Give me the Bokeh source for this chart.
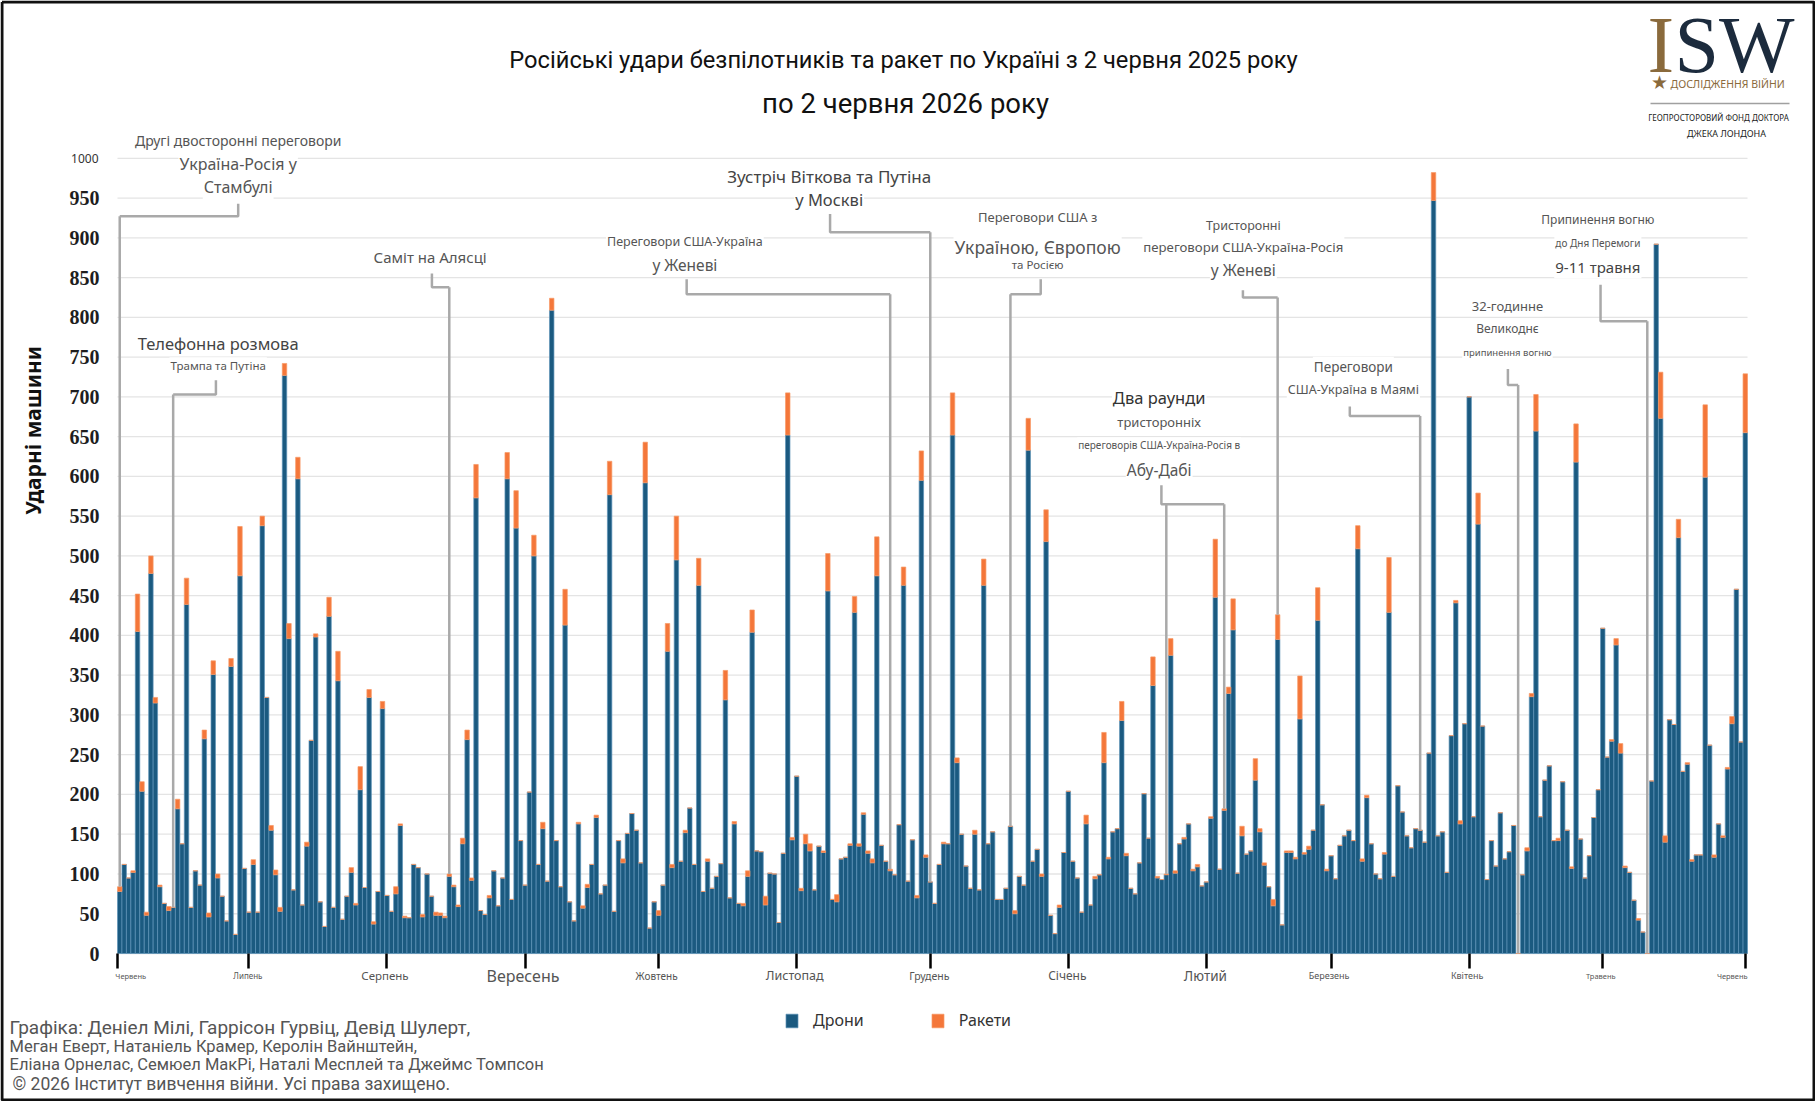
from math import pi
import pandas as pd
from bokeh.plotting import figure
from bokeh.models import (ColumnDataSource, Range1d, FixedTicker, Label, Legend,
                          LegendItem, LinearAxis)
from bokeh.embed import file_html
from bokeh.resources import INLINE

# ---------------- data ----------------
start_date = "2025-06-02"

drones = [
    78, 112, 95, 102, 405, 204, 48, 478, 315, 84,
    63, 54, 58, 182, 138, 439, 58, 104, 86, 270,
    46, 351, 95, 72, 41, 361, 24, 475, 107, 52,
    112, 52, 538, 322, 155, 99, 53, 727, 396, 80,
    597, 61, 135, 268, 398, 65, 34, 424, 58, 343,
    43, 72, 102, 61, 206, 83, 322, 37, 78, 308,
    73, 53, 75, 161, 45, 45, 112, 108, 46, 100,
    72, 48, 48, 45, 97, 84, 59, 138, 269, 92,
    573, 54, 49, 70, 104, 60, 95, 597, 68, 535,
    142, 86, 203, 500, 112, 157, 91, 809, 142, 84,
    413, 65, 41, 163, 57, 83, 112, 171, 75, 86,
    577, 53, 142, 114, 151, 176, 155, 114, 592, 32,
    65, 48, 86, 380, 108, 495, 116, 152, 183, 112,
    463, 78, 116, 82, 97, 113, 319, 70, 163, 63,
    60, 97, 404, 129, 128, 61, 101, 100, 39, 126,
    652, 143, 223, 79, 138, 129, 80, 135, 127, 456,
    68, 65, 119, 121, 136, 429, 135, 175, 126, 114,
    475, 136, 116, 104, 99, 162, 463, 91, 143, 70,
    595, 121, 90, 63, 112, 138, 138, 652, 240, 150,
    110, 82, 150, 80, 463, 138, 153, 68, 68, 82,
    160, 50, 97, 86, 633, 116, 131, 97, 518, 48,
    25, 58, 127, 204, 116, 95, 52, 163, 61, 94,
    99, 240, 119, 153, 157, 293, 123, 82, 75, 114,
    201, 145, 337, 95, 93, 99, 375, 101, 138, 144,
    163, 104, 109, 85, 90, 170, 448, 106, 180, 327,
    407, 101, 148, 125, 129, 218, 153, 111, 84, 60,
    395, 36, 127, 127, 119, 295, 125, 131, 155, 419,
    187, 104, 123, 94, 136, 148, 155, 142, 509, 116,
    196, 138, 100, 94, 125, 429, 97, 211, 178, 148,
    133, 157, 155, 140, 252, 947, 148, 153, 102, 274,
    441, 163, 289, 700, 172, 540, 286, 93, 142, 110,
    177, 119, 128, 161, 0, 99, 129, 323, 657, 172,
    218, 236, 142, 142, 216, 155, 107, 618, 144, 95,
    123, 171, 206, 409, 247, 267, 388, 252, 108, 102,
    67, 42, 27, 0, 217, 892, 673, 140, 294, 288,
    523, 229, 238, 116, 124, 124, 599, 262, 121, 163,
    146, 232, 289, 458, 266, 655,
]

missiles = [
    6, 0, 0, 2, 47, 12, 4, 22, 7, 2,
    0, 5, 0, 12, 0, 33, 0, 0, 0, 11,
    5, 17, 5, 0, 0, 10, 0, 62, 0, 0,
    6, 0, 12, 0, 6, 6, 5, 15, 19, 0,
    27, 0, 5, 0, 4, 0, 0, 24, 0, 37,
    0, 0, 6, 2, 29, 0, 10, 3, 0, 9,
    0, 0, 9, 2, 2, 0, 0, 0, 3, 0,
    0, 4, 3, 2, 3, 2, 2, 7, 12, 3,
    42, 0, 0, 3, 0, 0, 0, 33, 0, 47,
    0, 0, 0, 26, 0, 8, 0, 15, 0, 0,
    45, 0, 0, 2, 3, 4, 0, 3, 0, 0,
    42, 0, 0, 5, 0, 0, 0, 0, 51, 0,
    0, 6, 0, 35, 4, 55, 0, 3, 0, 0,
    34, 0, 3, 0, 0, 0, 37, 0, 3, 0,
    3, 7, 28, 0, 0, 11, 0, 0, 0, 0,
    53, 3, 0, 3, 12, 9, 0, 0, 2, 47,
    0, 9, 0, 0, 2, 20, 3, 2, 3, 5,
    49, 0, 0, 2, 0, 0, 23, 0, 0, 3,
    37, 3, 0, 0, 0, 2, 0, 53, 6, 0,
    0, 0, 5, 0, 33, 0, 0, 0, 0, 0,
    0, 4, 0, 0, 40, 0, 0, 3, 40, 0,
    0, 3, 0, 0, 0, 0, 0, 11, 0, 3,
    0, 38, 2, 0, 0, 24, 3, 0, 0, 0,
    0, 0, 36, 2, 0, 1, 21, 3, 0, 2,
    0, 2, 3, 0, 0, 2, 73, 0, 2, 8,
    39, 0, 12, 0, 0, 27, 4, 3, 0, 8,
    31, 0, 2, 2, 2, 54, 2, 4, 0, 41,
    0, 2, 0, 0, 0, 0, 0, 0, 29, 3,
    3, 0, 0, 0, 2, 69, 0, 0, 0, 0,
    0, 0, 0, 0, 0, 35, 0, 0, 0, 0,
    3, 4, 0, 0, 0, 39, 0, 0, 0, 0,
    0, 0, 0, 0, 0, 0, 4, 4, 46, 0,
    0, 0, 0, 3, 0, 0, 2, 48, 0, 0,
    0, 0, 0, 0, 0, 2, 8, 12, 2, 0,
    0, 2, 0, 0, 0, 0, 58, 8, 0, 0,
    23, 0, 2, 2, 0, 0, 91, 0, 3, 0,
    2, 2, 9, 0, 0, 74,
]

series_names = ["Дрони", "Ракети"]

month_dates = ["2025-06-02", "2025-07-01", "2025-08-01", "2025-09-01", "2025-10-01",
               "2025-11-01", "2025-12-01", "2026-01-01", "2026-02-01", "2026-03-01",
               "2026-04-01", "2026-05-01", "2026-06-02"]
month_labels = ["Червень", "Липень", "Серпень", "Вересень", "Жовтень", "Листопад",
                "Грудень", "Січень", "Лютий", "Березень", "Квітень", "Травень", "Червень"]

y_ticks = list(range(0, 1001, 50))

title_lines = ["Російські удари безпілотників та ракет по Україні з 2 червня 2025 року",
               "по 2 червня 2026 року"]
y_title = "Ударні машини"
credit_lines = ["Графіка: Деніел Мілі, Гаррісон Гурвіц, Девід Шулерт,",
                "Меган Еверт, Натаніель Крамер, Керолін Вайнштейн,",
                "Еліана Орнелас, Семюел МакРі, Наталі Месплей та Джеймс Томпсон",
                "© 2026 Інститут вивчення війни. Усі права захищено."]
logo_texts = ["I", "SW", "★", "ДОСЛІДЖЕННЯ ВІЙНИ", "ГЕОПРОСТОРОВИЙ ФОНД ДОКТОРА", "ДЖЕКА ЛОНДОНА"]

event_dates = [["2025-06-02"], ["2025-06-14"], ["2025-08-15"], ["2025-11-22"],
               ["2025-12-01"], ["2025-12-19"], ["2026-01-23", "2026-02-05"],
               ["2026-02-17"], ["2026-03-21"], ["2026-04-12"], ["2026-05-11"]]
event_texts = [
    ["Другі двосторонні переговори", "Україна-Росія у", "Стамбулі"],
    ["Телефонна розмова", "Трампа та Путіна"],
    ["Саміт на Алясці"],
    ["Переговори США-Україна", "у Женеві"],
    ["Зустріч Віткова та Путіна", "у Москві"],
    ["Переговори США з", "Україною, Європою", "та Росією"],
    ["Два раунди", "тристоронніх", "переговорів США-Україна-Росія в", "Абу-Дабі"],
    ["Тристоронні", "переговори США-Україна-Росія", "у Женеві"],
    ["Переговори", "США-Україна в Маямі"],
    ["32-годинне", "Великоднє", "припинення вогню"],
    ["Припинення вогню", "до Дня Перемоги", "9-11 травня"],
]

# ---------------- layout / styles (not data) ----------------
W, H = 1815, 1101
FL, FR, FT, FB = 117, 1747, 126, 953          # plot area edges in canvas px
Y_TOP = 1040                                   # value at FT
N = len(drones)
SX = (FR - FL) / N
SY = (FB - FT) / Y_TOP

C_DRONE, C_DRONE_EDGE = "#1b5a80", "#5f93b7"
C_MISS, C_MISS_EDGE = "#f4773a", "#f89a66"
C_LINE = "#a9a9a9"
C_TXT = "#555555"
C_GRID = "#e4e4e4"
C_BROWN = "#8a6a3c"

event_layout = [
    dict(tx=27.1, lines=[(14, C_TXT, 1023), (16, C_TXT, 993), (16, C_TXT, 964)], elbow=(27.1, 943, 927)),
    dict(tx=22.6, lines=[(16.5, "#444", 767), (11.5, C_TXT, 739)], elbow=(22.1, 721, 703)),
    dict(tx=70.2, lines=[(15, C_TXT, 876)], elbow=(70.6, 855, 838)),
    dict(tx=127.4, lines=[(12.5, C_TXT, 895), (15.5, C_TXT, 866)], elbow=(127.8, 848, 829)),
    dict(tx=159.8, lines=[(17, "#444", 977), (16.5, "#444", 948)], elbow=(160.0, 930, 907)),
    dict(tx=206.6, lines=[(13, C_TXT, 926), (17.5, C_TXT, 889), (11.5, C_TXT, 866)], elbow=(207.3, 848, 829)),
    dict(tx=233.9, lines=[(16.5, "#333", 699), (13, C_TXT, 668), (10, C_TXT, 639), (15.5, C_TXT, 608)],
         elbow=(234.4, 589, 565)),
    dict(tx=252.8, lines=[(12.5, C_TXT, 916), (13.2, C_TXT, 889), (15.5, C_TXT, 859)], elbow=(252.7, 834, 825)),
    dict(tx=277.5, lines=[(13.5, C_TXT, 738), (12.5, C_TXT, 709)], elbow=(276.7, 688, 676)),
    dict(tx=312.1, lines=[(13, C_TXT, 814), (12, C_TXT, 786), (9.5, C_TXT, 756)], elbow=(312.2, 735, 715)),
    dict(tx=332.4, lines=[(12, C_TXT, 923), (10, C_TXT, 894), (15, "#444", 863)], elbow=(333.0, 841, 795)),
]

month_label_sizes = [7.5, 8, 11.5, 16, 10, 12.5, 10.5, 12, 13.5, 9, 9, 7.5, 7.5]
month_label_dx = [11, -1, -2, -2, -2, -2, -1, -1, -1, -2, -2, -2, -13]

# ---------------- build ----------------
t0 = pd.Timestamp(start_date)
dates = pd.date_range(start_date, periods=N, freq="D")
xpos = [(d - t0).days + 0.5 for d in dates]
totals = [a + b for a, b in zip(drones, missiles)]
src = ColumnDataSource(dict(x=xpos, drones=drones, missiles=missiles))


def day_of(ds):
    return (pd.Timestamp(ds) - t0).days


def dx(cx):
    return (cx - FL) / SX


def dy(cy):
    return (FB - cy) / SY


# the frame spans the whole canvas; data ranges are set so the plot area sits at FL..FR / FT..FB
p = figure(width=W, height=H,
           x_range=Range1d(dx(0), dx(W)), y_range=Range1d(dy(H), dy(0)),
           x_axis_type=None, y_axis_type=None,
           output_backend="svg", toolbar_location=None,
           min_border=0, min_border_left=0, min_border_right=0, min_border_top=0, min_border_bottom=0)
p.title.visible = False
p.outline_line_color = None
p.background_fill_color = "white"
p.border_fill_color = "white"
p.grid.visible = False

# horizontal grid lines limited to the plot area
p.segment(x0=[0] * len(y_ticks), x1=[N] * len(y_ticks), y0=y_ticks, y1=y_ticks,
          line_color=C_GRID, line_width=1.3)

renderers = p.vbar_stack(["drones", "missiles"], x="x", width=1.0, source=src,
                         fill_color=[C_DRONE, C_MISS], line_color=[C_DRONE_EDGE, C_MISS_EDGE],
                         line_width=0.7)

# x axis (fixed at y=0): month ticks
tick_x = [day_of(d) + 0.5 for d in month_dates]
tick_x[0] = 0.0
xa = LinearAxis(fixed_location=0, ticker=FixedTicker(ticks=tick_x), bounds=(0, N))
xa.major_label_overrides = {t: "" for t in tick_x}
xa.axis_line_color = None
xa.major_tick_line_color = "black"
xa.major_tick_line_width = 2.5
xa.major_tick_out = 15
xa.major_tick_in = 0
xa.minor_tick_line_color = None
p.add_layout(xa, "below")

# y axis (fixed at x=0)
ya = LinearAxis(fixed_location=0, ticker=FixedTicker(ticks=y_ticks), bounds=(0, 1000))
ya.major_label_overrides = {1000: ""}
ya.axis_line_color = None
ya.major_tick_line_color = None
ya.minor_tick_line_color = None
ya.major_tick_out = 0
ya.major_tick_in = 0
ya.major_label_standoff = 18
ya.major_label_text_font = "Liberation Serif"
ya.major_label_text_font_style = "bold"
ya.major_label_text_font_size = "20px"
ya.major_label_text_color = "#1e1e1e"
p.add_layout(ya, "left")


def canvas_label(text, cx, cy, size, color="#555", font="Noto Sans", align="center",
                 baseline="middle", style="normal", angle=0.0):
    p.add_layout(Label(x=cx, y=H - cy, x_units="screen", y_units="screen", text=text,
                       text_font=font, text_font_size=f"{size}px", text_color=color,
                       text_align=align, text_baseline=baseline, text_font_style=style,
                       angle=angle))


# connectors
for dlist, lay in zip(event_dates, event_layout):
    xe, ytop, yh = lay["elbow"]
    targets = [day_of(d) for d in dlist]
    tx = [t + 0.5 for t in targets]
    far = max(tx, key=lambda v: abs(v - xe))
    p.line([xe, xe, far], [ytop, yh, yh], line_color=C_LINE, line_width=2.5)
    for t, xv in zip(targets, tx):
        p.line([xv, xv], [yh, totals[t]], line_color=C_LINE, line_width=2.5)

# event texts
for texts, lay in zip(event_texts, event_layout):
    for txt, (size, col, yv) in zip(texts, lay["lines"]):
        p.add_layout(Label(x=lay["tx"], y=yv, text=txt, text_font="Noto Sans",
                           text_font_size=f"{size}px", text_color=col, text_align="center",
                           text_baseline="middle", background_fill_color="white",
                           background_fill_alpha=1.0, padding=1))

# month labels
for d, lab, sz, ox in zip(month_dates, month_labels, month_label_sizes, month_label_dx):
    xv = day_of(d) + 0.5
    p.add_layout(Label(x=xv, y=H - 975, x_units="data", y_units="screen", x_offset=ox, text=lab,
                       text_font="Noto Sans", text_font_size=f"{sz}px", text_color="#555",
                       text_align="center", text_baseline="middle"))

# top y label (1000) smaller, as in the source
canvas_label(str(y_ticks[-1]), 98, FB - 1000 * SY, 12, color="#333", align="right")

# y title
canvas_label(y_title, 32, 430, 21, color="#111", angle=pi / 2, style="bold")

# titles
canvas_label(title_lines[0], 903, 59, 23.7, color="#111", font="Roboto")
canvas_label(title_lines[1], 905, 103, 27.5, color="#111", font="Roboto")

# credits
for txt, cy, sz, cx in zip(credit_lines, [1027, 1046, 1064, 1083], [19, 16.5, 16.5, 17.5],
                           [9, 9, 9, 12]):
    canvas_label(txt, cx, cy, sz, color="#555", font="Roboto", align="left")

# legend
legend = Legend(items=[LegendItem(label=series_names[0], renderers=[renderers[0]]),
                       LegendItem(label=series_names[1], renderers=[renderers[1]])],
                orientation="horizontal", location=(784, H - 1031))
legend.label_text_font = "Noto Sans"
legend.label_text_font_size = "16px"
legend.label_text_color = "#333"
legend.glyph_width = 15
legend.glyph_height = 17
legend.label_height = 17
legend.label_standoff = 14
legend.spacing = 66
legend.padding = 0
legend.margin = 0
legend.border_line_color = None
legend.background_fill_alpha = 0
p.add_layout(legend)

# ISW logo
canvas_label(logo_texts[0], 1647, 44, 80, color=C_BROWN, font="Liberation Serif", align="left")
canvas_label(logo_texts[1], 1674, 44, 80, color="#1c2b3d", font="Liberation Serif", align="left")
canvas_label(logo_texts[2], 1659, 81, 19, color=C_BROWN, font="DejaVu Sans")
canvas_label(logo_texts[3], 1670, 83, 10.5, color=C_BROWN, align="left")
p.line([dx(1650), dx(1789)], [dy(103), dy(103)], line_color="#a0a0a0", line_width=1.5)
canvas_label(logo_texts[4], 1718, 117, 8, color="#222")
canvas_label(logo_texts[5], 1726, 133, 9, color="#222")

# thin dark border around the picture
p.line([dx(1.5), dx(W - 1.5), dx(W - 1.5), dx(1.5), dx(1.5)],
       [dy(1.5), dy(1.5), dy(H - 1.5), dy(H - 1.5), dy(1.5)],
       line_color="#111", line_width=3)

open("out.html", "w").write(file_html(p, INLINE))
